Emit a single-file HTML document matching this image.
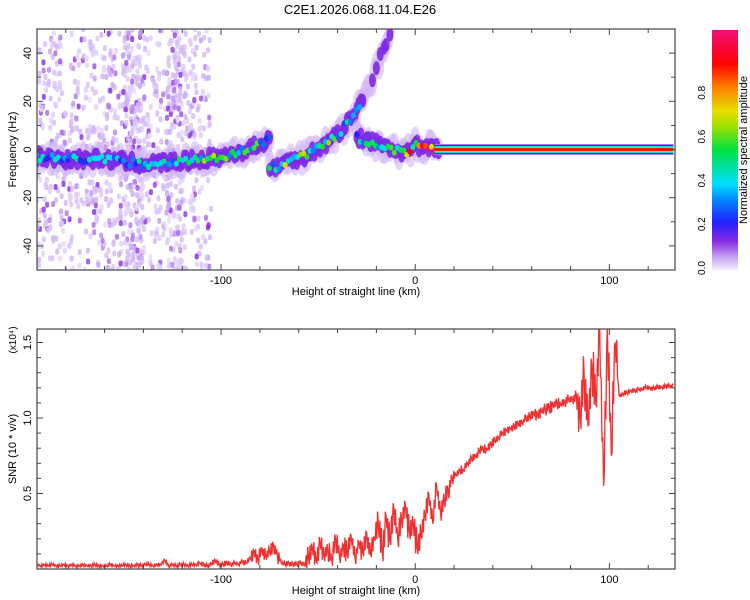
<!DOCTYPE html>
<html><head><meta charset="utf-8"><style>
body{margin:0;background:#fff;}
svg{display:block;font-family:"Liberation Sans",sans-serif;}
</style></head><body>
<svg id="chart" width="750" height="600" viewBox="0 0 750 600">
<defs>
<linearGradient id="cb" x1="0" y1="1" x2="0" y2="0">
<stop offset="0" stop-color="#f4eefc"/><stop offset="0.05" stop-color="#c9a8f5"/>
<stop offset="0.12" stop-color="#8a2be2"/><stop offset="0.2" stop-color="#2020ff"/>
<stop offset="0.3" stop-color="#0090ff"/><stop offset="0.36" stop-color="#00e0ff"/>
<stop offset="0.5" stop-color="#00e040"/><stop offset="0.6" stop-color="#a0e000"/>
<stop offset="0.66" stop-color="#e8e000"/><stop offset="0.76" stop-color="#ff8000"/>
<stop offset="0.86" stop-color="#ff0000"/><stop offset="1" stop-color="#f0107a"/>
</linearGradient>
<clipPath id="c1"><rect x="37" y="29" width="638" height="241"/></clipPath>
<clipPath id="c2"><rect x="37" y="329" width="638" height="240"/></clipPath>
</defs>
<text x="360" y="14" font-size="13" text-anchor="middle">C2E1.2026.068.11.04.E26</text>
<g id="spec" clip-path="url(#c1)"></g>
<g id="ax1"></g>
<g id="snr" clip-path="url(#c2)"></g>
<g id="ax2"></g>
<rect x="712" y="30" width="26" height="240" fill="url(#cb)"/>
<g id="cbax"></g>
<text transform="translate(747,150) rotate(-90)" font-size="11" text-anchor="middle">Normalized spectral amplitude</text>
</svg>
<script>
// ---- data ----
const ridgeAH=[-195,-180,-160,-150,-140,-120,-110,-100,-90,-80,-75];
const ridgeAF=[-3,-4,-4,-5,-6,-5,-4,-3,-1,2,5];
const ridgeAA=[0.3,0.3,0.3,0.25,0.35,0.4,0.45,0.5,0.45,0.4,0.3];
const ridgeBH=[-75,-65,-55,-45,-38,-32,-28,-22,-16,-12];
const ridgeBF=[-8,-5,-2,3,8,14,20,30,42,50];
const ridgeBA=[0.35,0.5,0.45,0.45,0.35,0.3,0.25,0.2,0.2,0.2];
const ridgeCH=[-30,-22,-15,-8,-3,0,3,8,12];
const ridgeCF=[5,3,1,-1,-1,2,0,1,0];
const ridgeCA=[0.3,0.4,0.5,0.5,0.7,0.6,0.7,0.8,0.8];
const bandRange=[10,133];
const bandFreq=0;
const snrStart=-195, snrStep=2;
const snrVals=[0.03,0.02,0.03,0.02,0.03,0.02,0.02,0.03,0.02,0.03,0.02,0.02,0.03,0.02,0.02,0.03,0.02,0.02,0.02,0.03,0.02,0.02,0.02,0.03,0.02,0.02,0.03,0.02,0.03,0.03,0.02,0.03,0.03,0.06,0.02,0.03,0.02,0.03,0.03,0.02,0.03,0.03,0.04,
0.03,0.02,0.03,0.06,0.03,0.03,0.04,0.03,0.04,0.03,0.05,0.04,
0.07,0.12,0.06,0.14,0.08,0.11,0.16,0.09,
0.04,0.03,0.04,0.03,0.03,0.04,0.03,
0.08,0.14,0.05,0.17,0.09,0.12,0.06,0.2,0.08,0.16,0.1,0.22,0.07,0.18,0.11,0.24,0.09,0.2,
0.3,0.12,0.35,0.18,0.4,0.2,0.33,0.42,0.25,0.3,
0.14,0.22,
0.35,0.5,0.3,0.55,0.38,0.45,0.52,0.6,
0.62,0.66,0.65,0.7,0.73,0.75,0.78,0.8,0.79,0.83,0.85,0.87,0.9,0.92,0.93,0.95,0.96,0.97,1.0,1.01,1.03,1.02,1.05,1.06,1.07,1.08,1.1,1.09,1.11,1.12,1.13,1.15,
1.0,1.3,0.95,1.35,1.1,1.6,0.55,1.6,0.75,1.5,
1.15,1.16,1.17,1.18,1.18,1.19,1.19,1.2,1.2,1.2,1.21,1.2,1.21,1.21,1.22];
// noise envelope (half-amplitude) per region: start height, amplitude
const noiseH=[-195,-110,-85,-70,-57,-20,3,20,60,83,104];
const noiseA=[0.01,0.015,0.04,0.015,0.06,0.09,0.06,0.025,0.035,0.15,0.015];
const xTicks=[-100,0,100];
const fTicks=[-40,-20,0,20,40];
const sTicks=[0.5,1.0,1.5];
const cbTicks=[0.0,0.2,0.4,0.6,0.8];
// ---- scales ----
const X0=37,X1=675,HMIN=-194.8,HMAX=133.8;
const xs=h=>X0+(h-HMIN)/(HMAX-HMIN)*(X1-X0);
const yf=f=>149.5-f*2.41;
const ys=v=>569-v*151;
const NS='http://www.w3.org/2000/svg';
function mk(tag,attrs,parent){const e=document.createElementNS(NS,tag);for(const k in attrs)e.setAttribute(k,attrs[k]);parent.appendChild(e);return e;}
function col(a){const st=[[0,[244,238,252]],[0.05,[201,168,245]],[0.12,[138,43,226]],[0.2,[32,32,255]],[0.3,[0,144,255]],[0.36,[0,224,255]],[0.5,[0,224,64]],[0.6,[160,224,0]],[0.66,[232,224,0]],[0.76,[255,128,0]],[0.86,[255,0,0]],[1,[240,16,122]]];
for(let i=1;i<st.length;i++){if(a<=st[i][0]){const t=(a-st[i-1][0])/(st[i][0]-st[i-1][0]);const c=st[i-1][1].map((v,j)=>Math.round(v+(st[i][1][j]-v)*t));return`rgb(${c})`;}}return'rgb(240,16,122)';}
let seed=7;const rnd=()=>{seed=(seed*16807)%2147483647;return seed/2147483647;};
const spec=document.getElementById('spec');
// background scatter texture
for(let i=0;i<1300;i++){
  let h=HMIN+rnd()*90; if(rnd()<0.3) h=-150+rnd()*30;
  if(h>-105) continue;
  if(h>-140 && h<-128 && rnd()<0.6) continue;
  const f=-50+rnd()*100;
  const r=rnd();
  const a=r<0.78?0.015+rnd()*0.03:(r<0.93?0.05+rnd()*0.04:0.1+rnd()*0.03);
  const e=mk('rect',{x:xs(h)-2,y:yf(f)-3,width:4,height:6,rx:2,fill:col(a),opacity:0.8},spec);
  
  
}
function interp(H,F,A,h){for(let i=1;i<H.length;i++){if(h<=H[i]){const t=(h-H[i-1])/(H[i]-H[i-1]);return[F[i-1]+(F[i]-F[i-1])*t,A[i-1]+(A[i]-A[i-1])*t];}}return[F[F.length-1],A[A.length-1]];}
function ridge(H,F,A,name){
  for(let h=H[0];h<=H[H.length-1];h+=1.2){
    const [f,a]=interp(H,F,A,h);
    const j=(rnd()-0.5)*6;
    const halo=mk('ellipse',{cx:xs(h),cy:yf(f+j),rx:5,ry:12,fill:col(0.04),opacity:0.6},spec);
    
    
  }
  for(let h=H[0];h<=H[H.length-1];h+=1.0){
    const [f,a]=interp(H,F,A,h);
    if(f>20 && rnd()<0.6) continue;
    const j=(rnd()-0.5)*4;
    const m=mk('ellipse',{cx:xs(h),cy:yf(f+j),rx:3.5,ry:7,fill:col(0.13),opacity:0.9},spec);
    
    
  }
  for(let h=H[0];h<=H[H.length-1];h+=1.6){
    const [f,a]=interp(H,F,A,h);
    if(f>20) continue;
    const j=(rnd()-0.5)*3;
    const b=mk('ellipse',{cx:xs(h),cy:yf(f+j),rx:2.5,ry:3,fill:col(Math.max(0.18,a*(0.6+rnd()*0.8)))},spec);
    
    
  }
}
ridge(ridgeAH,ridgeAF,ridgeAA,'ridge-main');
ridge(ridgeBH,ridgeBF,ridgeBA,'ridge-rising');
ridge(ridgeCH,ridgeCF,ridgeCA,'ridge-center');
// flat band
const bx=xs(bandRange[0]),bw=xs(bandRange[1])-bx,by=yf(bandFreq);
[[5.5,0.08],[4.5,0.2],[3.6,0.36],[2.8,0.5],[2.1,0.66],[1.4,0.86]].forEach(([hh,a])=>{
  const r=mk('rect',{x:bx,y:by-hh,width:bw,height:hh*2,fill:col(a)},spec);
  
  
});
// axes
function axes(g,top,bot,yTicks,yfun,minorY,yLabel,yMin,yMax,lblFmt){
  mk('rect',{x:X0,y:top,width:X1-X0,height:bot-top,fill:'none',stroke:'#444','stroke-width':1.2},g);
  for(let h=-180;h<=130;h+=20){const x=xs(h);const L=(h%100===0)?6:4;
    mk('line',{x1:x,y1:bot,x2:x,y2:bot-L,stroke:'#444'},g);mk('line',{x1:x,y1:top,x2:x,y2:top+L,stroke:'#444'},g);}
  xTicks.forEach(t=>{const e=mk('text',{x:xs(t),y:bot+14,'font-size':11,'text-anchor':'middle'},g);e.textContent=t;
    });
  for(let v=yMin;v<=yMax+1e-9;v+=minorY){const y=yfun(v);if(y<top-0.5||y>bot+0.5)continue;const major=yTicks.some(t=>Math.abs(t-v)<1e-6);const L=major?6:4;
    mk('line',{x1:X0,y1:y,x2:X0+L,y2:y,stroke:'#444'},g);mk('line',{x1:X1,y1:y,x2:X1-L,y2:y,stroke:'#444'},g);}
  yTicks.forEach(t=>{const y=yfun(t);const e=mk('text',{transform:`translate(31,${y}) rotate(-90)`,'font-size':11,'text-anchor':'middle'},g);e.textContent=lblFmt(t);
    });
  const xl=mk('text',{x:356,y:bot+25,'font-size':11,'text-anchor':'middle'},g);xl.textContent='Height of straight line (km)';
  
  const yl=mk('text',{transform:`translate(16,${(top+bot)/2}) rotate(-90)`,'font-size':11,'text-anchor':'middle'},g);yl.textContent=yLabel;
  
}
axes(document.getElementById('ax1'),29,270,fTicks,yf,10,'Frequency (Hz)',-50,50,t=>t);
axes(document.getElementById('ax2'),329,569,sTicks,ys,0.1,'SNR (10 * v/v)',0.1,1.5,t=>t.toFixed(1));
const ex=mk('text',{transform:'translate(16,340) rotate(-90)','font-size':10,'text-anchor':'middle'},document.getElementById('ax2'));
ex.textContent='(x10⁴)';


// snr line: data points with noise envelope texture between them
function noiseAt(h){let a=noiseA[0];for(let i=0;i<noiseH.length;i++){if(h>=noiseH[i])a=noiseA[i];}return a;}
let d='';let k=0;
for(let i=0;i<snrVals.length;i++){
  const h=snrStart+i*snrStep;
  d+=(i?'L':'M')+xs(h).toFixed(1)+','+ys(snrVals[i]).toFixed(1);
  if(i<snrVals.length-1){
    for(let s=1;s<5;s++){
      const hh=h+s*snrStep/5;
      const v=snrVals[i]+(snrVals[i+1]-snrVals[i])*s/5;
      const n=noiseAt(hh)*((k++%2)?1:-1)*(0.4+rnd()*0.9);
      d+='L'+xs(hh).toFixed(1)+','+ys(Math.max(0.005,v+n)).toFixed(1);
    }
  }
}
const p=mk('path',{d:d,fill:'none',stroke:'#f03030','stroke-width':1.3},document.getElementById('snr'));


// colorbar axis
const cbg=document.getElementById('cbax');
cbTicks.forEach(t=>{const y=268-t*219;const e=mk('text',{transform:`translate(705,${y}) rotate(-90)`,'font-size':10,'text-anchor':'middle'},cbg);e.textContent=t.toFixed(1);
  });
</script>
</body></html>
